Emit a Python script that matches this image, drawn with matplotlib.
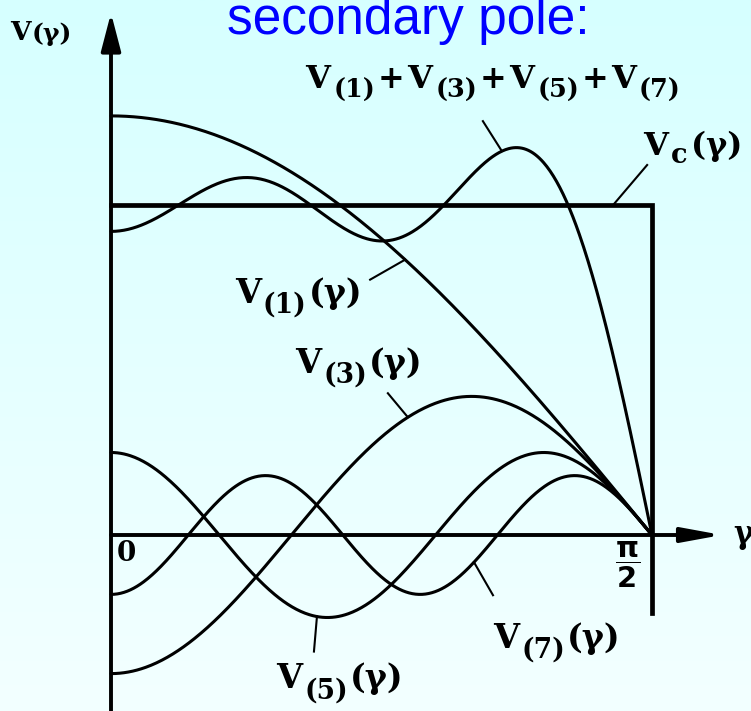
import numpy as np
import matplotlib.pyplot as plt
import matplotlib.transforms as mtransforms
from matplotlib.colors import LinearSegmentedColormap

# Harmonics of the pole field, Vc = 1
orders = [1, 3, 5, 7]
amplitudes = [1.27, -0.42, 0.25, -0.18]
vc_level = 1.0
vc_edge = -0.235          # lower end of the drawn square-wave edge

# label anchors (gamma, V) at the left end of the baseline
label_pos = {
    'axis': (-0.293, 1.50),
    'sum': (0.565, 1.355),
    'vc': (1.545, 1.152),
    1: (0.360, 0.703),
    3: (0.535, 0.491),
    5: (0.480, -0.464),
    7: (1.110, -0.342),
}
# leader lines: (curve, gamma on curve, dx px, dy px)
leaders = [
    ('sum', 1.135, -19, 30),
    ('vc', 1.458, 34, 40),
    (1, 0.854, -35, -20),
    (3, 0.862, -20, 24),
    (5, 0.598, -3, -35),
    (7, 1.054, 19, -33),
]

W, H = 751, 711
PX_X = 344.4   # pixels per radian
PX_Y = 330.0   # pixels per unit of V

fig = plt.figure(figsize=(W / 100, H / 100), dpi=100)
ax = fig.add_axes([0, 0, 1, 1])
xlim = (-111 / PX_X, 640 / PX_X)
ylim = (-176 / PX_Y, 535 / PX_Y)

# pale cyan backdrop, a little deeper towards the top
cmap = LinearSegmentedColormap.from_list('bg', ['#f3ffff', '#d6ffff'])
ax.imshow(np.linspace(0, 1, 256)[:, None], cmap=cmap, aspect='auto',
          extent=(*xlim, *ylim), origin='lower', zorder=0)
ax.set_xlim(*xlim)
ax.set_ylim(*ylim)
ax.axis('off')

gamma = np.linspace(0, np.pi / 2, 500)
curves = {n: a * np.cos(n * gamma) for n, a in zip(orders, amplitudes)}
curves['sum'] = sum(curves[n] for n in orders)

for key, v in curves.items():
    ax.plot(gamma, v, color='black', lw=2.2, solid_capstyle='round', zorder=3)

ax.plot([0, np.pi / 2, np.pi / 2], [vc_level, vc_level, vc_edge],
        color='black', lw=3.4, solid_joinstyle='miter', zorder=3)


def curve_value(key, g):
    if key == 'vc':
        return vc_level
    if key == 'sum':
        return sum(a * np.cos(n * g) for n, a in zip(orders, amplitudes))
    return amplitudes[orders.index(key)] * np.cos(key * g)


for key, g, dx, dy in leaders:
    v = curve_value(key, g)
    ax.plot([g, g + dx / PX_X], [v, v + dy / PX_Y], color='black', lw=1.5, zorder=3)

# axes with arrow heads
arrow = dict(color='black', lw=2.8, shrinkA=0, shrinkB=0, mutation_scale=20)
ax.annotate('', xy=(0, 522 / PX_Y), xytext=(0, ylim[0] - 0.05),
            arrowprops=dict(arrowstyle='-|>,head_length=1.15,head_width=0.3', **arrow))
ax.annotate('', xy=(611 / PX_X, 0), xytext=(0, 0),
            arrowprops=dict(arrowstyle='-|>,head_length=1.2,head_width=0.22', **arrow))

renderer = fig.canvas.get_renderer()
pt = fig.dpi / 72


def put_label(anchor, parts, size=23, gap=2.5):
    px, py = ax.transData.transform(anchor)
    for text, scale, drop in parts:
        t = ax.text(px, py - drop * size * pt, text,
                    transform=mtransforms.IdentityTransform(),
                    fontsize=size * scale, family='DejaVu Serif', weight='bold',
                    ha='left', va='baseline', zorder=4)
        px += t.get_window_extent(renderer).width + gap


def harmonic(n):
    return [('V', 1, 0), ('(%d)' % n, 0.8, 0.3), ('(γ)', 1, 0)]


put_label(label_pos['axis'], [('V', 1, 0), ('(γ)', 0.95, 0.05)], size=19, gap=1)
sum_parts = []
for i, n in enumerate(orders):
    if i:
        sum_parts.append(('+', 1, 0))
    sum_parts += [('V', 1, 0), ('(%d)' % n, 0.8, 0.3)]
put_label(label_pos['sum'], sum_parts, gap=2.8)
put_label(label_pos['vc'], [('V', 1, 0), ('c', 0.85, 0.25), ('(γ)', 1, 0)], gap=3)
for n in orders:
    put_label(label_pos[n], harmonic(n), size=24, gap=2)

ax.text(0.018, -0.015, '0', family='DejaVu Serif', weight='bold', fontsize=20,
        ha='left', va='top', zorder=4)
ax.text(np.pi / 2 - 0.07, -0.015, r'$\dfrac{\mathbf{\pi}}{\mathbf{2}}$', fontsize=21,
        ha='center', va='top', zorder=4)
ax.text(622 / PX_X, 0.0, 'γ', family='DejaVu Serif', weight='bold', fontsize=22,
        ha='left', va='center', zorder=4)

fig.text(227 / W, 1 - 34 / H, 'secondary pole:', color='#0000ff',
         family='Liberation Sans', fontsize=37, ha='left', va='baseline')

fig.savefig('out.png', dpi=100)
